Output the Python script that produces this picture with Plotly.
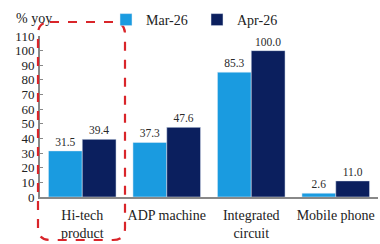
import plotly.graph_objects as go

categories = ["Hi-tech<br>product", "ADP machine", "Integrated<br>circuit", "Mobile phone"]
mar_26 = [31.5, 37.3, 85.3, 2.6]
apr_26 = [39.4, 47.6, 100.0, 11.0]
series_names = ["Mar-26", "Apr-26"]
y_ticks = list(range(0, 111, 10))

FONT = "'Liberation Serif', 'Times New Roman', serif"
W, H = 380, 244
L, R, T, B = 40, 2, 36, 47
pw, ph = W - L - R, H - T - B

def px(x):
    return (x - L) / pw

def py(y):
    return (H - B - y) / ph

fig = go.Figure()
fig.add_trace(go.Bar(x=categories, y=mar_26, name=series_names[0], marker_color="#1a9be0",
                     text=[f"{v:.1f}" for v in mar_26], textposition="outside",
                     textfont=dict(size=11.5, color="#2a2a2a", family=FONT), cliponaxis=False))
fig.add_trace(go.Bar(x=categories, y=apr_26, name=series_names[1], marker_color="#0b1f5e",
                     text=[f"{v:.1f}" for v in apr_26], textposition="outside",
                     textfont=dict(size=11.5, color="#2a2a2a", family=FONT), cliponaxis=False))

# rounded dashed rectangle (pixel coords converted to paper)
x0, x1, y0, y1 = 38, 125, 22, 240
r = 12
path = (f"M {px(x0+r)},{py(y0)} L {px(x1-r)},{py(y0)} Q {px(x1)},{py(y0)} {px(x1)},{py(y0+r)} "
        f"L {px(x1)},{py(y1-r)} Q {px(x1)},{py(y1)} {px(x1-r)},{py(y1)} "
        f"L {px(x0+r)},{py(y1)} Q {px(x0)},{py(y1)} {px(x0)},{py(y1-r)} "
        f"L {px(x0)},{py(y0+r)} Q {px(x0)},{py(y0)} {px(x0+r)},{py(y0)} Z")
fig.add_shape(type="path", path=path, xref="paper", yref="paper",
              line=dict(color="#d9252a", width=2.2, dash="dash"))

fig.add_annotation(text="% yoy", xref="paper", yref="paper", x=px(14), y=py(18),
                   xanchor="left", yanchor="middle", showarrow=False,
                   font=dict(size=14, family=FONT, color="#222222"))

fig.update_layout(
    width=W, height=H, margin=dict(l=L, r=R, t=T, b=B),
    paper_bgcolor="white", plot_bgcolor="white",
    barmode="group", bargap=0.2, bargroupgap=0,
    font=dict(family=FONT, size=13, color="#222222"),
    legend=dict(orientation="h", x=px(106), y=py(20), xanchor="left", yanchor="middle",
                font=dict(size=14, family=FONT), itemwidth=30, traceorder="normal",
                entrywidth=46, entrywidthmode="pixels",
                bgcolor="rgba(0,0,0,0)"),
    showlegend=True,
)
fig.update_yaxes(range=[0, 110], tickvals=y_ticks, showgrid=False, showline=True,
                 linecolor="#888888", linewidth=2, ticks="inside", ticklen=3,
                 tickcolor="#888888", tickfont=dict(size=13, family=FONT), zeroline=False,
                 ticklabelstandoff=1)
fig.update_xaxes(showline=True, linecolor="#888888", linewidth=1.5, ticks="",
                 tickfont=dict(size=14, family=FONT), ticklabelstandoff=4)

fig.write_html("out.html", config={"displayModeBar": False},
               post_script="document.body.style.margin='0';document.body.style.overflow='hidden';")
